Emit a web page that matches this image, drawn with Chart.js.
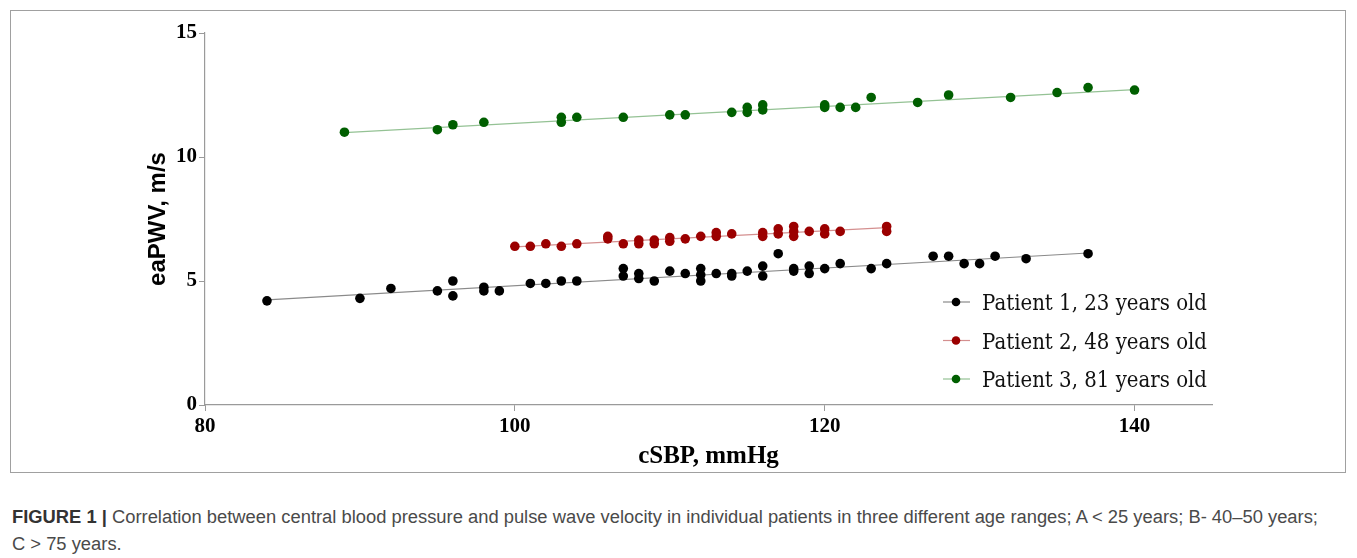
<!DOCTYPE html>
<html>
<head>
<meta charset="utf-8">
<script src="https://cdn.jsdelivr.net/npm/chart.js@4.4.1/dist/chart.umd.min.js"></script>
<style>
  body { margin: 0; background: #fff; width: 1357px; height: 558px; overflow: hidden; position: relative; }
  #frame { position: absolute; left: 10px; top: 10px; width: 1336px; height: 463px; border: 1px solid #a0a0a0; box-sizing: border-box; }
  #wrap { position: absolute; left: 0; top: 0; width: 1357px; height: 480px; }
  .cap { position: absolute; left: 12px; font-family: "Liberation Sans", Arial, sans-serif; font-size: 18px; color: #4a4a4a; white-space: nowrap; transform-origin: 0 0; }
  .cap b { color: #333; }
</style>
</head>
<body>
<div id="frame"></div>
<div id="wrap"><canvas id="chart" width="1357" height="480"></canvas></div>
<div class="cap" id="cap1" style="top:507px"><b>FIGURE 1 |</b> Correlation between central blood pressure and pulse wave velocity in individual patients in three different age ranges; A &lt; 25 years; B- 40–50 years;</div>
<div class="cap" id="cap2" style="top:534px">C &gt; 75 years.</div>
<script>
// valores
const xTicks = [80, 100, 120, 140];
const yTicks = [0, 5, 10, 15];
const labels = ['Patient 1, 23 years old', 'Patient 2, 48 years old', 'Patient 3, 81 years old'];

const p1X = [84, 90, 92, 95, 96, 96, 98, 98, 99, 101, 102, 103, 104, 107, 107, 108, 108, 109, 110, 111, 112, 112, 112, 113, 114, 114, 115, 116, 116, 117, 118, 118, 119, 119, 120, 121, 123, 124, 127, 128, 129, 130, 131, 133, 137];
const p1Y = [4.2, 4.3, 4.7, 4.6, 5.0, 4.4, 4.75, 4.6, 4.6, 4.9, 4.9, 5.0, 5.0, 5.5, 5.2, 5.3, 5.1, 5.0, 5.4, 5.3, 5.5, 5.25, 5.0, 5.3, 5.3, 5.2, 5.4, 5.6, 5.2, 6.1, 5.5, 5.4, 5.6, 5.3, 5.5, 5.7, 5.5, 5.7, 6.0, 6.0, 5.7, 5.7, 6.0, 5.9, 6.1];

const p2X = [100, 101, 102, 103, 104, 106, 106, 107, 108, 108, 109, 109, 110, 110, 111, 112, 113, 113, 114, 116, 116, 117, 117, 118, 118, 118, 119, 120, 120, 121, 124, 124];
const p2Y = [6.4, 6.4, 6.5, 6.4, 6.5, 6.8, 6.7, 6.5, 6.65, 6.5, 6.65, 6.5, 6.75, 6.6, 6.7, 6.8, 6.95, 6.8, 6.9, 6.95, 6.8, 7.1, 6.9, 7.2, 7.0, 6.8, 7.0, 7.1, 6.9, 7.0, 7.2, 7.0];

const p3X = [89, 95, 96, 98, 103, 103, 104, 107, 110, 111, 114, 115, 115, 116, 116, 120, 120, 121, 122, 123, 126, 128, 132, 135, 137, 140];
const p3Y = [11.0, 11.1, 11.3, 11.4, 11.6, 11.4, 11.6, 11.6, 11.7, 11.7, 11.8, 12.0, 11.8, 12.1, 11.9, 12.1, 12.0, 12.0, 12.0, 12.4, 12.2, 12.5, 12.4, 12.6, 12.8, 12.7];

// rectas de tendencia (extremos leídos)
const t1X = [84, 137], t1Y = [4.24, 6.13];
const t2X = [100, 124], t2Y = [6.38, 7.15];
const t3X = [89, 140], t3Y = [10.98, 12.72];

const dotColors = ['#000000', '#9b0000', '#005f00'];
const lineColors = ['#8a8a8a', '#d48f8f', '#94c294'];

const pts = (xs, ys) => xs.map((x, i) => ({ x: x, y: ys[i] }));

function puntos(xs, ys, i) {
    return { data: pts(xs, ys), showLine: false, pointRadius: 4.8, pointHoverRadius: 4.8,
             pointBackgroundColor: dotColors[i], pointBorderColor: dotColors[i], pointBorderWidth: 0, order: 1 };
}
function recta(xs, ys, i) {
    return { data: pts(xs, ys), showLine: true, borderColor: lineColors[i], borderWidth: 1.2,
             pointRadius: 0, order: 2 };
}

// leyenda dibujada dentro del área
const leyenda = {
    id: 'leyenda',
    afterDraw(c) {
        const g = c.ctx;
        g.save();
        g.font = '22px "DejaVu Serif"';
        const w = g.measureText(labels[0]).width;
        const sx = 225 / w;
        labels.forEach((t, i) => {
            const y = 302 + i * 38.5;
            g.strokeStyle = lineColors[i];
            g.lineWidth = 1.2;
            g.beginPath(); g.moveTo(943, y); g.lineTo(970, y); g.stroke();
            g.fillStyle = dotColors[i];
            g.beginPath(); g.arc(956, y, 4.3, 0, Math.PI * 2); g.fill();
            g.save();
            g.translate(982, y + 8);
            g.scale(sx, 1);
            g.fillStyle = '#111';
            g.textBaseline = 'alphabetic';
            g.fillText(t, 0, 0);
            g.restore();
        });
        g.restore();
    }
};

const serifBold = (s) => ({ family: '"Liberation Serif", "Times New Roman", serif', weight: 'bold', size: s });

new Chart(document.getElementById('chart'), {
    type: 'scatter',
    data: {
        datasets: [
            recta(t1X, t1Y, 0), recta(t2X, t2Y, 1), recta(t3X, t3Y, 2),
            puntos(p1X, p1Y, 0), puntos(p2X, p2Y, 1), puntos(p3X, p3Y, 2)
        ]
    },
    options: {
        responsive: false,
        animation: false,
        layout: { padding: { left: 0, right: 145, top: 33, bottom: 0 } },
        plugins: { legend: { display: false }, tooltip: { enabled: false } },
        scales: {
            x: {
                type: 'linear', min: 80, max: 145,
                afterBuildTicks: s => { s.ticks = xTicks.map(v => ({ value: v })); },
                afterFit: s => { s.height = 75; },
                grid: { drawOnChartArea: false, tickLength: 6, color: '#9a9a9a' },
                border: { color: '#9a9a9a', width: 1.2 },
                ticks: { font: serifBold(21), color: '#000', padding: 3 },
                title: { display: true, text: 'cSBP, mmHg', color: '#000', font: serifBold(25), padding: { top: 0, bottom: 8 } }
            },
            y: {
                type: 'linear', min: 0, max: 15,
                afterBuildTicks: s => { s.ticks = yTicks.map(v => ({ value: v })); },
                afterFit: s => { s.width = 205; },
                grid: { drawOnChartArea: false, tickLength: 6, color: '#9a9a9a' },
                border: { color: '#9a9a9a', width: 1.2 },
                ticks: { font: serifBold(21), color: '#000', padding: 2 },
                title: { display: true, text: 'eaPWV, m/s', color: '#000',
                         font: { family: '"Liberation Sans", Arial, sans-serif', weight: 'bold', size: 24 },
                         padding: { top: 144, bottom: 0 } }
            }
        }
    },
    plugins: [leyenda]
});

// ajustar el ancho del pie de figura
const c1 = document.getElementById('cap1'), c2 = document.getElementById('cap2');
const k = 1306 / c1.scrollWidth;
c1.style.transform = c2.style.transform = 'scaleX(' + k + ')';
</script>
</body>
</html>
